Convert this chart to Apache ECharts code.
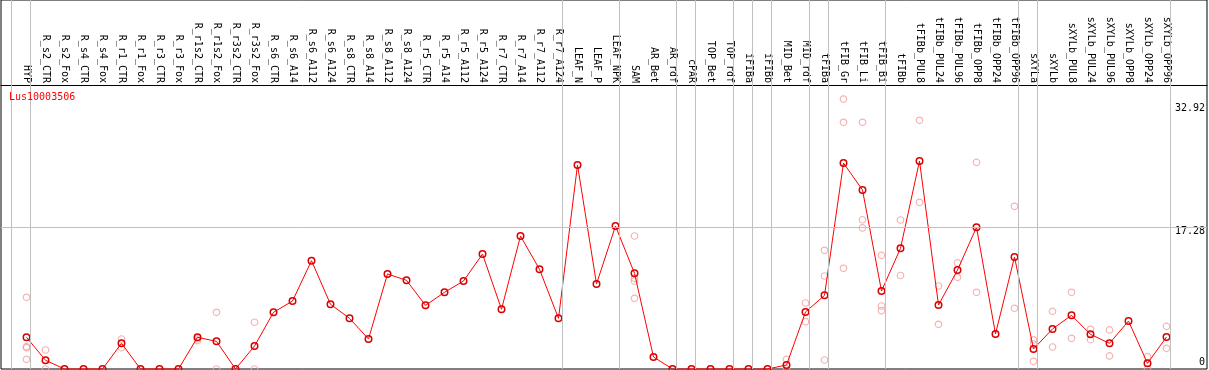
<!DOCTYPE html>
<html>
<head>
<meta charset="utf-8">
<script src="https://cdn.jsdelivr.net/npm/echarts@6/dist/echarts.min.js"></script>
<style>
html, body {margin:0; padding:0; background:#fff;}
#chart {width:1209px; height:370px;}
</style>
</head>
<body>
<div id="chart"></div>
<script>
var geneName = 'Lus10003506';

var categories = ['HYP', 'R_s2_CTR', 'R_s2_Fox', 'R_s4_CTR', 'R_s4_Fox', 'R_r1_CTR', 'R_r1_Fox',
	'R_r3_CTR', 'R_r3_Fox', 'R_r1s2_CTR', 'R_r1s2_Fox', 'R_r3s2_CTR', 'R_r3s2_Fox',
	'R_s6_CTR', 'R_s6_A14', 'R_s6_A112', 'R_s6_A124', 'R_s8_CTR', 'R_s8_A14', 'R_s8_A112', 'R_s8_A124',
	'R_r5_CTR', 'R_r5_A14', 'R_r5_A112', 'R_r5_A124', 'R_r7_CTR', 'R_r7_A14', 'R_r7_A112', 'R_r7_A124',
	'LEAF_N', 'LEAF_P', 'LEAF_NPK', 'SAM', 'AR_Bet', 'AR_rdf', 'cPAR', 'TOP_Bet', 'TOP_rdf',
	'iFIBa', 'iFIBb', 'MID_Bet', 'MID_rdf', 'tFIBa', 'tFIB_Gr', 'tFIB_Li', 'tFIB_Bi', 'tFIBb',
	'tFIBb_PUL8', 'tFIBb_PUL24', 'tFIBb_PUL96', 'tFIBb_OPP8', 'tFIBb_OPP24', 'tFIBb_OPP96',
	'sXYLa', 'sXYLb', 'sXYLb_PUL8', 'sXYLb_PUL24', 'sXYLb_PUL96', 'sXYLb_OPP8', 'sXYLb_OPP24', 'sXYLb_OPP96'];

// mean expression per sample
var meanValues = [3.87, 1.06, 0, 0, 0, 3.13, 0, 0, 0, 3.87, 3.37, 0, 2.80,
	6.91, 8.29, 13.21, 7.89, 6.18, 3.66, 11.59, 10.81, 7.76, 9.35, 10.73, 14.02, 7.28, 16.22, 12.16, 6.18,
	24.88, 10.37, 17.44, 11.67, 1.46, 0, 0, 0, 0, 0, 0, 0.49, 6.95, 8.98,
	25.12, 21.83, 9.51, 14.72, 25.37, 7.80, 12.07, 17.28, 4.27, 13.66,
	2.44, 4.88, 6.55, 4.23, 3.13, 5.85, 0.69, 3.90];

// single replicates per sample (empty where they sit under the mean)
var replicates = [[8.74, 2.72, 2.6, 1.18], [2.32, 0], [], [], [], [3.66, 2.6], [], [], [], [3.66, 3.46], [6.91, 0], [], [5.7, 0],
	[], [], [], [], [], [], [], [], [], [], [], [], [], [], [], [],
	[], [], [], [16.22, 11.06, 10.73, 8.62], [], [], [], [], [], [], [], [1.18, 0], [8.05, 5.77], [14.47, 11.34, 1.1],
	[32.92, 30.08, 12.28], [30.08, 18.2, 17.2], [13.86, 7.68, 7.11], [18.17, 11.4], [30.33, 20.33], [10.12, 5.45], [12.93, 11.18], [25.2, 9.35], [], [19.84, 7.4],
	[3.54, 3.05, 0.94], [7.03, 2.68], [9.35, 3.74], [4.84, 3.58], [4.76, 1.59], [], [1.5, 0], [5.2, 2.52]];

// last sample index of each group (separator drawn after it)
var groupEnds = [-1, 0, 28, 31, 34, 35, 37, 38, 39, 41, 42, 45, 52, 53, 60];

var yTickValues = [0, 17.28, 32.92];
var yTickLabels = ['0', '17.28', '32.92'];

var FONT = 'DejaVu Sans Mono';

var meanData = [];
var repData = [];
for (var i = 0; i < categories.length; i++) {
	meanData.push([i, meanValues[i]]);
	for (var r = 0; r < replicates[i].length; r++) {
		repData.push([i, replicates[i][r]]);
	}
}
var xIdx = [];
for (var i = 0; i < categories.length; i++) xIdx.push(i);

var sepLines = [];
for (var g = 0; g < groupEnds.length; g++) {
	sepLines.push({xAxis: groupEnds[g] + 4 / 19});
}

var chart = echarts.init(document.getElementById('chart'), null, {renderer: 'canvas'});
var option = {
	animation: false,
	backgroundColor: '#fff',
	title: {
		text: geneName,
		left: 9,
		top: 92,
		padding: 0,
		textStyle: {color: '#ff0000', fontSize: 10, fontWeight: 'normal', fontFamily: FONT}
	},
	grid: {
		left: 1, right: 2, top: 0, bottom: 1,
		show: true,
		borderColor: '#000',
		borderWidth: 1,
		backgroundColor: '#fff'
	},
	xAxis: {
		type: 'value',
		position: 'top',
		offset: -85,
		min: -25.5 / 19,
		max: -25.5 / 19 + 1206 / 19,
		splitLine: {show: false},
		axisTick: {show: false},
		axisLine: {show: true, onZero: false, lineStyle: {color: '#000', width: 1}},
		axisLabel: {
			customValues: xIdx,
			rotate: 90,
			margin: 2,
			color: '#000',
			fontSize: 10,
			fontFamily: FONT,
			formatter: function (v) { return categories[Math.round(v)]; }
		}
	},
	yAxis: {
		type: 'value',
		position: 'right',
		min: 0,
		max: 45,
		splitLine: {show: false},
		axisTick: {show: false},
		axisLine: {show: false},
		axisLabel: {
			inside: true,
			margin: 2,
			customValues: yTickValues,
			color: '#000',
			fontSize: 10,
			fontFamily: FONT,
			verticalAlign: 'middle',
			formatter: function (v) {
				for (var k = 0; k < yTickValues.length; k++) {
					if (Math.abs(yTickValues[k] - v) < 1e-6) return '{p' + k + '|' + yTickLabels[k] + '}';
				}
				return '';
			},
			rich: {
				p0: {fontSize: 10, fontFamily: FONT, color: '#000', padding: [0, 0, 13, 0]},
				p1: {fontSize: 10, fontFamily: FONT, color: '#000', padding: [9, 0, 0, 0]},
				p2: {fontSize: 10, fontFamily: FONT, color: '#000', padding: [18, 0, 0, 0]}
			}
		}
	},
	series: [
		{
			name: 'replicates',
			type: 'scatter',
			z: 2,
			clip: false,
			silent: true,
			symbol: 'circle',
			symbolSize: 6.5,
			itemStyle: {color: 'rgba(0,0,0,0)', borderColor: '#f2a0a0', borderWidth: 1.2},
			data: repData,
			markLine: {
				silent: true,
				symbol: ['none', 'none'],
				label: {show: false},
				animation: false,
				lineStyle: {color: '#c0c0c0', width: 1, type: 'solid'},
				data: sepLines.concat([{yAxis: yTickValues[1]}])
			}
		},
		{
			name: 'mean',
			type: 'line',
			z: 3,
			clip: false,
			silent: true,
			symbol: 'circle',
			symbolSize: 6.5,
			showAllSymbol: true,
			lineStyle: {color: '#ff0000', width: 1},
			itemStyle: {color: 'rgba(0,0,0,0)', borderColor: '#d80000', borderWidth: 1.5},
			data: meanData
		}
	]
};
chart.setOption(option);
</script>
</body>
</html>
